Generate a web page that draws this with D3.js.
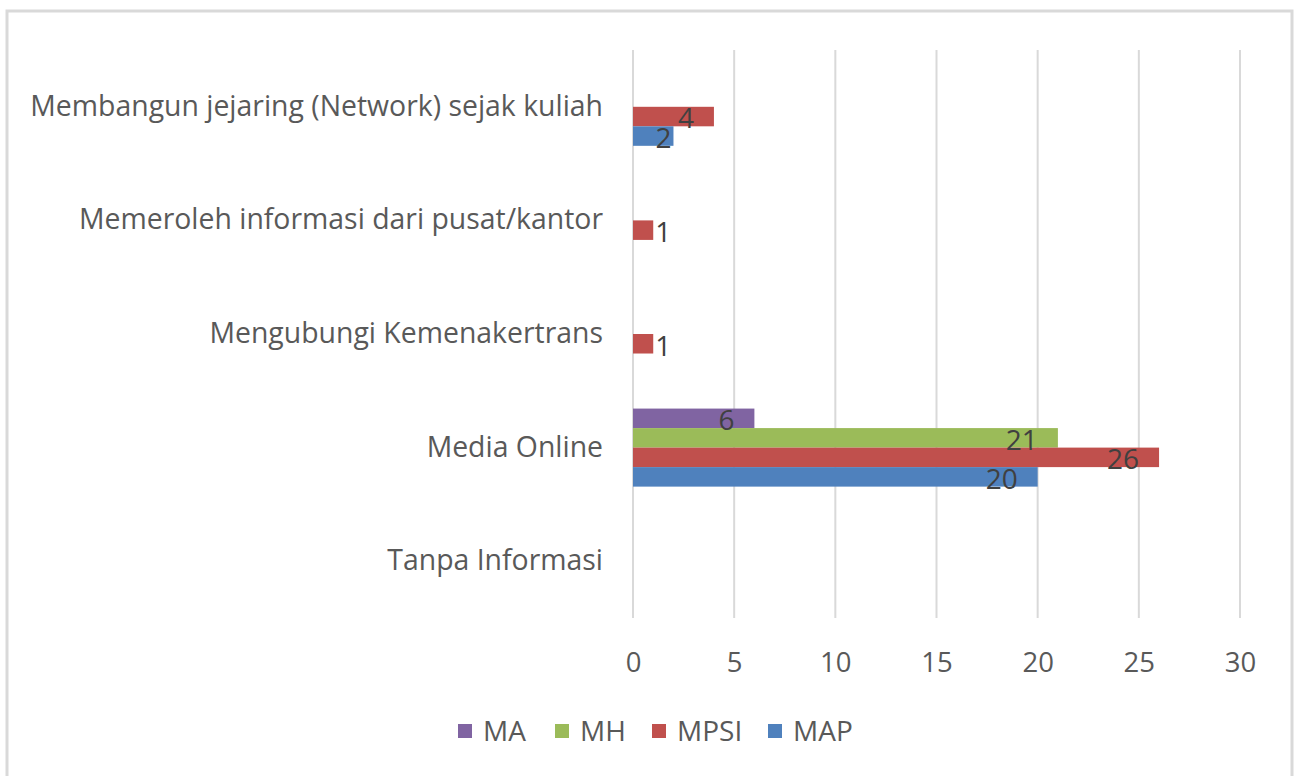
<!DOCTYPE html>
<html>
<head>
<meta charset="utf-8">
<script src="https://cdn.jsdelivr.net/npm/d3@7"></script>
<style>
  body { margin: 0; background: #fff; }
  text { font-family: "Open Sans", sans-serif; }
</style>
</head>
<body>
<svg class="chart"></svg>
<script>
// categories top to bottom
let categories = [
  "Membangun jejaring (Network) sejak kuliah",
  "Memeroleh informasi dari pusat/kantor",
  "Mengubungi Kemenakertrans",
  "Media Online",
  "Tanpa Informasi"
]

// series, in the order they sit inside each group (top to bottom)
let seriesNames = ["MA", "MH", "MPSI", "MAP"]
let seriesColors = ["#8064A2", "#9BBB59", "#C0504D", "#4F81BD"]

// values per category (null = no bar)
let valuesMA   = [null, null, null, 6, null]
let valuesMH   = [null, null, null, 21, null]
let valuesMPSI = [4, 1, 1, 26, null]
let valuesMAP  = [2, null, null, 20, null]

let xTicks = [0, 5, 10, 15, 20, 25, 30]

let allValues = [valuesMA, valuesMH, valuesMPSI, valuesMAP]

let rows = []
categories.forEach((c, i) => {
  seriesNames.forEach((s, j) => {
    let v = allValues[j][i]
    if (v != null) rows.push({ category: c, series: s, value: v })
  })
})

let W = 1296, H = 776
let plot = { left: 633, right: 1240, top: 50, bottom: 618 }
let fontSize = 28

let svg = d3.select('.chart').attr('width', W).attr('height', H)

// outer frame
svg.append('rect')
  .attr('x', 7).attr('y', 11)
  .attr('width', 1285).attr('height', 800)
  .attr('fill', '#fff')
  .attr('stroke', '#d9d9d9').attr('stroke-width', 3)

let x = d3.scaleLinear().domain([0, 30]).range([plot.left, plot.right])
let y0 = d3.scaleBand().domain(categories).range([plot.top, plot.bottom])
  .paddingInner(0.313).paddingOuter(0.1565)
let y1 = d3.scaleBand().domain(seriesNames).range([0, y0.bandwidth()])
let color = d3.scaleOrdinal().domain(seriesNames).range(seriesColors)

// gridlines
svg.append('g')
  .selectAll('line')
  .data(xTicks)
  .enter().append('line')
  .attr('x1', d => x(d)).attr('x2', d => x(d))
  .attr('y1', plot.top).attr('y2', plot.bottom)
  .attr('stroke', '#d9d9d9').attr('stroke-width', 2)

// x axis labels
let xAxis = svg.append('g')
  .attr('transform', 'translate(0,' + (plot.bottom + 44) + ')')
  .call(d3.axisBottom(x).tickValues(xTicks).tickSize(0).tickPadding(0))
xAxis.select('.domain').remove()
xAxis.selectAll('text')
  .attr('font-size', 27.5).attr('fill', '#595959')
  .attr('font-family', '"Open Sans", sans-serif')
  .attr('dy', '0.35em').attr('y', 0)

// category labels
let yAxis = svg.append('g')
  .attr('transform', 'translate(' + (plot.left - 30) + ',0)')
  .call(d3.axisLeft(y0).tickSize(0).tickPadding(0))
yAxis.select('.domain').remove()
yAxis.selectAll('text')
  .attr('font-size', 28.4).attr('fill', '#595959')
  .attr('font-family', '"Open Sans", sans-serif')

// bars
svg.append('g')
  .selectAll('rect')
  .data(rows)
  .enter().append('rect')
  .attr('x', x(0))
  .attr('y', d => y0(d.category) + y1(d.series))
  .attr('width', d => x(d.value) - x(0))
  .attr('height', y1.bandwidth())
  .attr('fill', d => color(d.series))

// value labels
svg.append('g')
  .selectAll('text')
  .data(rows)
  .enter().append('text')
  .attr('x', d => d.value >= 3 ? x(d.value) - 20 : d.value >= 2 ? x(d.value) - 2 : x(d.value) + 2)
  .attr('y', d => y0(d.category) + y1(d.series) + y1.bandwidth() / 2 + 2)
  .attr('dy', '0.35em')
  .attr('text-anchor', d => d.value >= 2 ? 'end' : 'start')
  .attr('font-size', fontSize).attr('fill', '#404040')
  .text(d => d.value)

// legend
let legendX = [458, 555, 652, 768]
let legend = svg.append('g')
  .selectAll('g')
  .data(seriesNames)
  .enter().append('g')
  .attr('transform', (d, i) => 'translate(' + legendX[i] + ',731)')
legend.append('rect')
  .attr('x', 0).attr('y', -7)
  .attr('width', 14).attr('height', 14)
  .attr('fill', d => color(d))
legend.append('text')
  .attr('x', 25).attr('dy', '0.35em')
  .attr('font-size', fontSize).attr('fill', '#595959')
  .text(d => d)
</script>
</body>
</html>
